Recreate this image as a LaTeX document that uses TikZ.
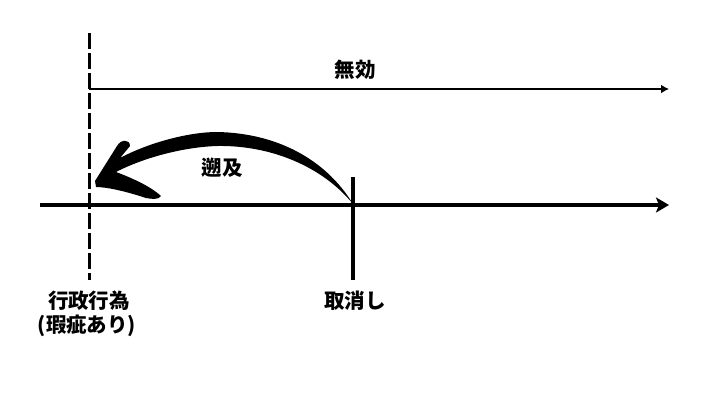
\documentclass[tikz,border=0pt]{standalone}
\usepackage{fontspec}
\newfontfamily\jpfont{Noto Sans CJK JP}
\usetikzlibrary{arrows.meta}
\begin{document}
\begin{tikzpicture}[x=1pt, y=-1pt,
  lbl/.style = {font=\jpfont\bfseries\fontsize{20.5}{24}\selectfont, inner sep=0pt},
  axis/.style = {line width=4.5pt, -{Stealth[length=13pt, width=15pt, inset=3pt]}}]
\useasboundingbox (0,0) rectangle (710,410);
% time axis
\coordinate (t0) at (40,205);
\coordinate (t1) at (669,205);
\draw[axis] (t0) -- (t1);
% administrative act (dashed) and cancellation
\coordinate (acttop) at (89,33);
\coordinate (actbot) at (89,280);
\coordinate (canceltop) at (353,177);
\coordinate (cancelbot) at (353,280);
\draw[line width=3pt, dash pattern=on 16pt off 4pt] (acttop) -- (actbot);
\draw[line width=3.2pt] (canceltop) -- (cancelbot);
% void from the start
\coordinate (v0) at (89,89);
\coordinate (v1) at (669,89);
\draw[line width=2.2pt, -{Latex[length=8pt, width=9pt]}] (v0) -- (v1);
\node[lbl] (void) at (355,70) {無効};
% retroactive arrow
\fill (95,181) -- (117,146) .. controls (121,139) and (130,139) .. (130,146)
  -- (120,158) .. controls (150,142) and (190,132) .. (217,132)
  .. controls (275,133) and (325,158) .. (353,204)
  .. controls (322,166) and (270,145) .. (217,146)
  .. controls (185,147) and (145,157) .. (116,172)
  .. controls (132,178) and (150,186) .. (161,196)
  .. controls (159,200) and (151,199) .. (146,198)
  .. controls (125,191) and (106,187) .. (96,187) -- cycle;
\node[lbl] (retro) at (222,168) {遡及};
% labels
\node[lbl] (act) at (89,301) {行政行為};
\node[lbl] (defect) at (87,326) {(瑕疵あり)};
\node[lbl] (cancel) at (355,301) {取消し};
\end{tikzpicture}
\end{document}
